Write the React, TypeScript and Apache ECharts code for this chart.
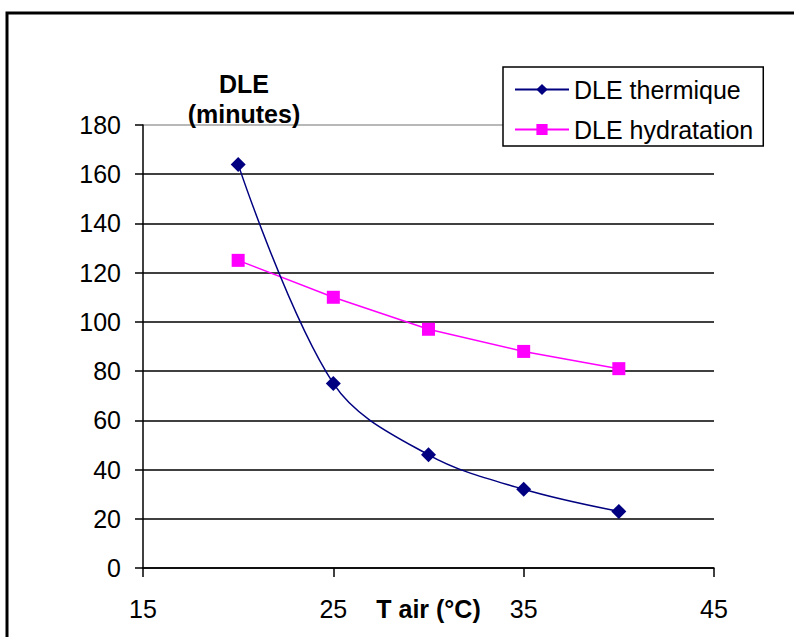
import React, { useEffect, useRef } from "react";
import * as echarts from "echarts";

const temperatures = [20, 25, 30, 35, 40];
const dleThermique = [164, 75, 46, 32, 23];
const dleHydratation = [125, 110, 97, 88, 81];
const seriesNames = ["DLE thermique", "DLE hydratation"];

const FONT = "'Liberation Sans', Arial, sans-serif";
const FS = 25;

export default function App() {
  const ref = useRef<HTMLDivElement>(null);
  useEffect(() => {
    if (!ref.current) return;
    const chart = echarts.init(ref.current, null, { renderer: "svg" });
    const gridColors = ["#000", "#000", "#000", "#000", "#000", "#000", "#000", "#000", "#000", "#a0a0a0"];
    chart.setOption({
      animation: false,
      backgroundColor: "#fff",
      textStyle: { fontFamily: FONT },
      grid: { left: 143, top: 125, right: 80, bottom: 69, containLabel: false, outerBoundsMode: "none" },
      xAxis: {
        type: "value",
        min: 15,
        max: 45,
        interval: 10,
        name: "T air (°C)",
        nameLocation: "middle",
        nameGap: 28,
        nameMoveOverlap: false,
        nameTextStyle: { fontFamily: FONT, fontSize: FS, fontWeight: "bold", color: "#000", verticalAlign: "top" },
        axisLine: { lineStyle: { color: "#000", width: 1.5 } },
        axisTick: { show: true, length: 9, lineStyle: { color: "#000", width: 1.5 } },
        axisLabel: { fontFamily: FONT, fontSize: FS, color: "#000", margin: 28, verticalAlign: "top" },
        splitLine: { show: false },
      },
      yAxis: {
        type: "value",
        min: 0,
        max: 180,
        interval: 20,
        axisLine: { show: true, lineStyle: { color: "#000", width: 1.5 } },
        axisTick: { show: true, length: 8, lineStyle: { color: "#000", width: 1.5 } },
        axisLabel: { fontFamily: FONT, fontSize: FS, color: "#000", margin: 22 },
        splitLine: { show: true, lineStyle: { color: gridColors, width: 1.5 } },
      },
      legend: {
        orient: "vertical",
        left: 503,
        top: 67,
        backgroundColor: "#fff",
        borderColor: "#000",
        borderWidth: 1.5,
        padding: [10, 10, 4, 11],
        itemWidth: 54,
        itemHeight: 14,
        itemGap: 15,
        textStyle: { fontFamily: FONT, fontSize: FS, color: "#000" },
        data: seriesNames,
      },
      graphic: [
        {
          type: "rect",
          shape: { x: 7, y: 13, width: 900, height: 900 },
          style: { fill: "none", stroke: "#000", lineWidth: 3 },
          silent: true,
          z: 100,
        },
        {
          type: "text",
          x: 244,
          y: 99,
          style: {
            text: "DLE\n(minutes)",
            fontFamily: FONT,
            fontSize: FS,
            fontWeight: "bold",
            fill: "#000",
            align: "center",
            verticalAlign: "middle",
            lineHeight: 30,
          },
          z: 50,
        },
      ],
      series: [
        {
          name: seriesNames[0],
          type: "line",
          data: temperatures.map((t, i) => [t, dleThermique[i]]),
          smooth: 0.35,
          symbol: "diamond",
          symbolSize: 15,
          itemStyle: { color: "#000080" },
          lineStyle: { color: "#000080", width: 1.5 },
          z: 3,
        },
        {
          name: seriesNames[1],
          type: "line",
          data: temperatures.map((t, i) => [t, dleHydratation[i]]),
          symbol: "rect",
          symbolSize: 13,
          itemStyle: { color: "#ff00ff" },
          lineStyle: { color: "#ff00ff", width: 1.5 },
          z: 2,
        },
      ],
    });
    return () => chart.dispose();
  }, []);
  return (
    <div
      ref={ref}
      style={{ position: "absolute", left: 0, top: 0, width: 794, height: 637 }}
    />
  );
}
